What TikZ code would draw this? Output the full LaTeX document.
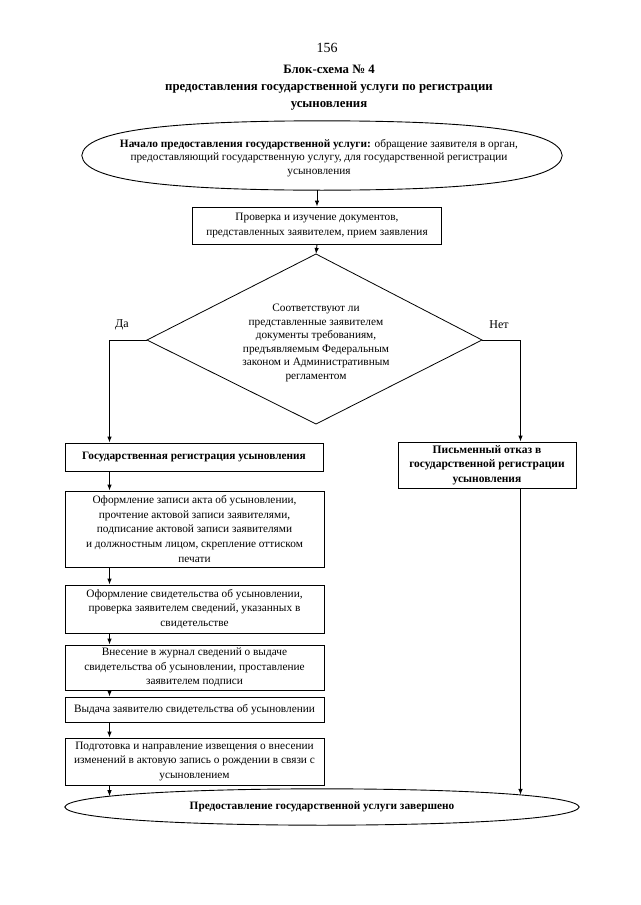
\documentclass[tikz,border=0pt]{standalone}
\usepackage{fontspec}
\setmainfont{Liberation Serif}
\usetikzlibrary{shapes.geometric,arrows.meta,intersections}
\newcommand\bodyfs{\fontsize{11.3}{14.7}\selectfont}
\begin{document}
\begin{tikzpicture}[x=1pt,y=-1pt,
  box/.style={draw, line width=0.8pt, inner sep=0pt, align=center, font=\bodyfs},
  ovalline/.style={line width=0.9pt},
  txt/.style={inner sep=0pt, align=center, font=\bodyfs},
  arr/.style={-{Latex[length=6pt,width=4.5pt]}, line width=0.9pt},
  ln/.style={line width=0.8pt},
  lbl/.style={font=\fontsize{12}{14}\selectfont, inner sep=0pt}]
\useasboundingbox[fill=white] (0,0) rectangle (640,905);

% header
\node[font=\fontsize{14}{16}\selectfont] (page) at (327,48) {156};
\node[font=\bfseries\fontsize{12.8}{17}\selectfont, align=center] (title) at (329,88)
  {Блок-схема № 4\\предоставления государственной услуги по регистрации\\усыновления};

% start (flattened oval)
\node[inner sep=0pt, minimum width=480, minimum height=69] (start) at (322,155.5) {};
\draw[ovalline] (start.west) .. controls (84,130) and (170,121) .. (start.north)
  .. controls (474,121) and (560,130) .. (start.east)
  .. controls (560,181) and (474,190) .. (start.south)
  .. controls (170,190) and (84,181) .. cycle;
\node[txt, font=\fontsize{11.3}{13.8}\selectfont] (starttext) at (319,158)
  {\textbf{Начало предоставления государственной услуги:} обращение заявителя в орган,\\
   предоставляющий государственную услугу, для государственной регистрации\\усыновления};

\node[box, minimum width=249, minimum height=37] (check) at (317,225.5)
  {Проверка и изучение документов,\\представленных заявителем, прием заявления};

% decision
\coordinate (dtop) at (316,254);
\coordinate (dright) at (482,340);
\coordinate (dbot) at (316,424);
\coordinate (dleft) at (147,340);
\draw[ln] (dtop) -- (dright) -- (dbot) -- (dleft) -- cycle;
\node[txt, font=\fontsize{11.3}{13.6}\selectfont] (dtext) at (316,343)
  {Соответствуют ли\\представленные заявителем\\документы требованиям,\\предъявляемым Федеральным\\законом и Административным\\регламентом};

\node[lbl] (yes) at (122,325) {Да};
\node[lbl] (no) at (499,325) {Нет};

\coordinate (lx) at (109.5,0);
\coordinate (rx) at (520.5,0);

% left column
\node[box, minimum width=258, minimum height=28] (b1) at (194,457)
  {\textbf{Государственная регистрация усыновления}};
\node[box, minimum width=259, minimum height=76] (b2) at (194.5,529)
  {Оформление записи акта об усыновлении,\\прочтение актовой записи заявителями,\\подписание актовой записи заявителями\\и должностным лицом, скрепление оттиском\\печати};
\node[box, minimum width=259, minimum height=48] (b3) at (194.5,609)
  {Оформление свидетельства об усыновлении,\\проверка заявителем сведений, указанных в\\свидетельстве};
\node[box, minimum width=259, minimum height=45] (b4) at (194.5,667.5)
  {Внесение в журнал сведений о выдаче\\свидетельства об усыновлении, проставление\\заявителем подписи};
\node[box, minimum width=259, minimum height=25] (b5) at (194.5,709.5)
  {Выдача заявителю свидетельства об усыновлении};
\node[box, minimum width=259, minimum height=47] (b6) at (194.5,761.5)
  {Подготовка и направление извещения о внесении\\изменений в актовую запись о рождении в связи с\\усыновлением};

% right
\node[box, minimum width=178, minimum height=46, font=\bfseries\fontsize{11.5}{14.5}\selectfont] (refuse) at (487,465)
  {Письменный отказ в\\государственной регистрации\\усыновления};

% end (flattened oval)
\node[inner sep=0pt, minimum width=514, minimum height=36] (end) at (322,807) {};
\draw[ovalline, name path=endshape] (end.west) .. controls (67,796) and (170,789) .. (end.north)
  .. controls (474,789) and (577,796) .. (end.east)
  .. controls (577,818) and (474,825) .. (end.south)
  .. controls (170,825) and (67,818) .. cycle;
\node[txt] (endtext) at (322,807)
  {\textbf{Предоставление государственной услуги завершено}};
\path[name path=vL] (b6.south -| lx) -- ++(0,30);
\path[name path=vR] (refuse.south -| rx) -- (rx |- end.center);
\path[name intersections={of=endshape and vL, by=endL}];
\path[name intersections={of=endshape and vR, by=endR}];

% connectors
\draw[arr] (start.south -| check.north) -- (check.north);
\draw[arr] (check.south) -- (dtop);
\draw[arr] (dleft) -- (dleft -| lx) -- (b1.north -| lx);
\draw[arr] (dright) -- (dright -| rx) -- (refuse.north -| rx);
\draw[arr] (b1.south -| lx) -- (b2.north -| lx);
\draw[arr] (b2.south -| lx) -- (b3.north -| lx);
\draw[arr] (b3.south -| lx) -- (b4.north -| lx);
\draw[arr] (b4.south -| lx) -- (b5.north -| lx);
\draw[arr] (b5.south -| lx) -- (b6.north -| lx);
\draw[arr] (b6.south -| lx) -- (endL);
\draw[arr] (refuse.south -| rx) -- (endR);
\end{tikzpicture}
\end{document}
